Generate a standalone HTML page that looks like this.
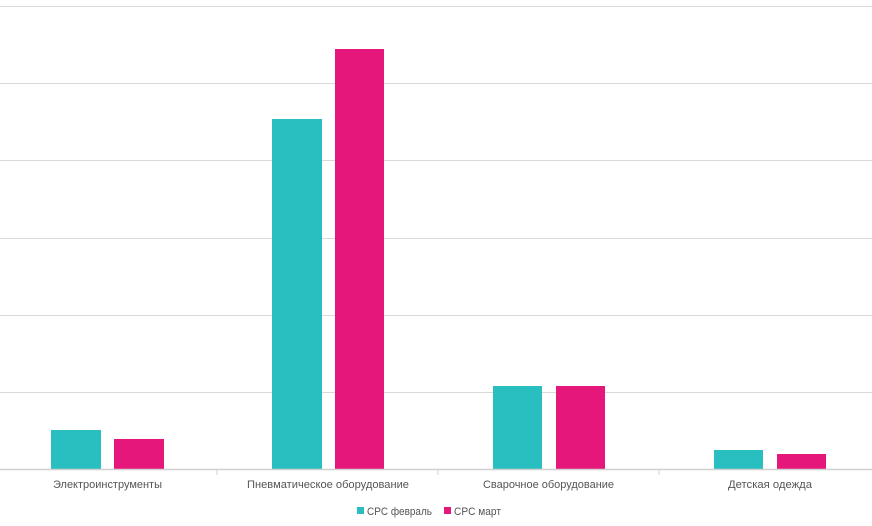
<!DOCTYPE html>
<html><head><meta charset="utf-8"><style>
html,body{margin:0;padding:0;background:#fff;width:872px;height:526px;overflow:hidden}
text{font-family:"Liberation Sans","DejaVu Sans",sans-serif;font-size:11px;fill:#555}
</style></head><body>
<svg width="872" height="526" xmlns="http://www.w3.org/2000/svg">
<g stroke="#d9d9d9" stroke-width="1">
<line x1="0" y1="6.5" x2="872" y2="6.5"/>
<line x1="0" y1="83.5" x2="872" y2="83.5"/>
<line x1="0" y1="160.5" x2="872" y2="160.5"/>
<line x1="0" y1="238.5" x2="872" y2="238.5"/>
<line x1="0" y1="315.5" x2="872" y2="315.5"/>
<line x1="0" y1="392.5" x2="872" y2="392.5"/>
</g>
<g fill="#29bfc0">
<rect x="51" y="430" width="50" height="39"/>
<rect x="272" y="119" width="50" height="350"/>
<rect x="493" y="386" width="49" height="83"/>
<rect x="714" y="450" width="49" height="19"/>
</g>
<g fill="#e5177a">
<rect x="114" y="439" width="50" height="30"/>
<rect x="335" y="49" width="49" height="420"/>
<rect x="556" y="386" width="49" height="83"/>
<rect x="777" y="454" width="49" height="15"/>
</g>
<line x1="0" y1="469.5" x2="872" y2="469.5" stroke="#d0d0d0" stroke-width="1.5"/>
<g stroke="#d0d0d0"><line x1="217" y1="469" x2="217" y2="475"/><line x1="438" y1="469" x2="438" y2="475"/><line x1="659" y1="469" x2="659" y2="475"/></g>
<text x="53" y="488" textLength="109" lengthAdjust="spacingAndGlyphs">Электроинструменты</text>
<text x="247" y="488" textLength="162" lengthAdjust="spacingAndGlyphs">Пневматическое оборудование</text>
<text x="483" y="488" textLength="131" lengthAdjust="spacingAndGlyphs">Сварочное оборудование</text>
<text x="728" y="488" textLength="84" lengthAdjust="spacingAndGlyphs">Детская одежда</text>
<rect x="357" y="507" width="7" height="7" fill="#29bfc0"/>
<text x="367" y="515" textLength="65" lengthAdjust="spacingAndGlyphs">CPC февраль</text>
<rect x="444" y="507" width="7" height="7" fill="#e5177a"/>
<text x="454" y="515" textLength="47" lengthAdjust="spacingAndGlyphs">CPC март</text>
</svg>
</body></html>
